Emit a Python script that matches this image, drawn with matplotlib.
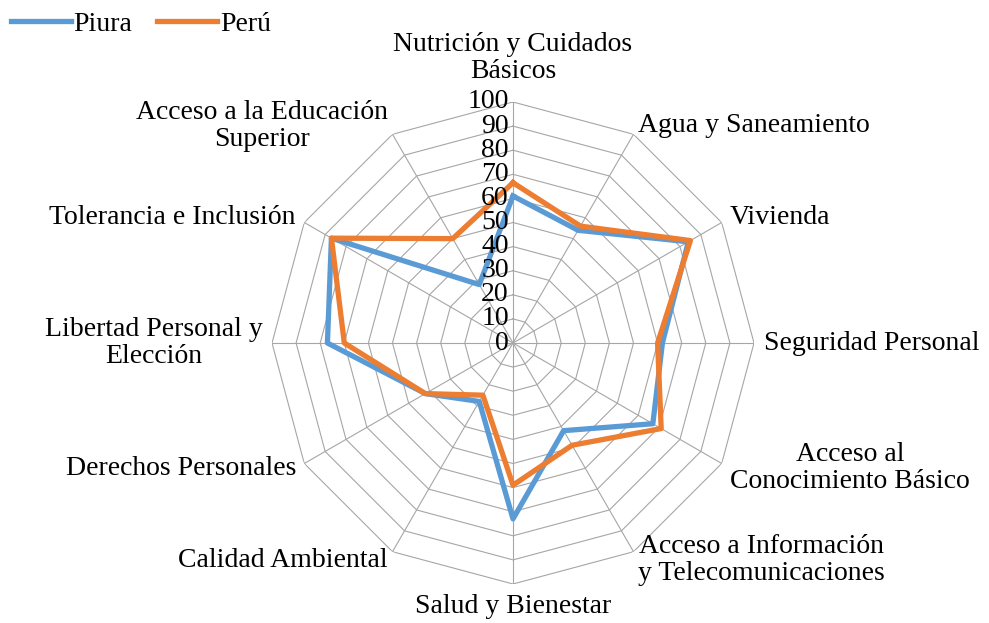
import numpy as np
import matplotlib
matplotlib.use('Agg')
import matplotlib.pyplot as plt

categories = [
    "Nutrición y Cuidados\nBásicos",
    "Agua y Saneamiento",
    "Vivienda",
    "Seguridad Personal",
    "Acceso al\nConocimiento Básico",
    "Acceso a Información\ny Telecomunicaciones",
    "Salud y Bienestar",
    "Calidad Ambiental",
    "Derechos Personales",
    "Libertad Personal y\nElección",
    "Tolerancia e Inclusión",
    "Acceso a la Educación\nSuperior",
]
piura = [61, 54, 84, 62, 67, 42, 73, 28, 42, 77, 87, 28]
peru = [66.5, 56, 85, 60, 71, 49, 59, 25, 42, 70, 87, 50]
r_ticks = list(range(0, 101, 10))

plt.rcParams['font.family'] = ['Liberation Serif', 'DejaVu Serif']
FS = 20
GRID = '#A6A6A6'

n = len(categories)
theta = np.linspace(0, 2 * np.pi, n, endpoint=False)
theta_c = np.append(theta, theta[0])

fig = plt.figure(figsize=(9.89, 6.23), dpi=100)
R = 241
cx, cy = 513, 343
ax = fig.add_axes([(cx - R) / 989, (623 - cy - R) / 623, 2 * R / 989, 2 * R / 623],
                  projection='polar')
ax.set_theta_offset(np.pi / 2)
ax.set_theta_direction(-1)
ax.set_ylim(0, 100)
ax.grid(False)
ax.spines['polar'].set_visible(False)
ax.set_xticks([])
ax.set_yticks([])
ax.patch.set_alpha(0)

# polygon grid (Excel style)
for r in r_ticks[1:]:
    ax.plot(theta_c, [r] * (n + 1), color=GRID, lw=0.8, zorder=1)
for t in theta:
    ax.plot([t, t], [0, 100], color=GRID, lw=0.8, zorder=1)

# radial labels
for r in r_ticks:
    ax.annotate(str(r), xy=(0, r), xytext=(-3, 0), textcoords='offset points',
                ha='right', va='center', fontsize=FS, zorder=5)

ax.plot(theta_c, piura + piura[:1], color='#5B9BD5', lw=3.8, label='Piura', zorder=3)
ax.plot(theta_c, peru + peru[:1], color='#ED7D31', lw=3.8, label='Perú', zorder=4)

# category labels
for t, lab in zip(theta, categories):
    deg = np.degrees(t) % 360
    r_lab = 104
    if deg < 1 or deg > 359:
        ha, va = 'center', 'bottom'
        r_lab = 107.5
    elif abs(deg - 180) < 1:
        ha, va = 'center', 'top'
    elif deg < 180:
        ha, va = 'left', 'center'
    else:
        ha, va = 'right', 'center'
    ax.text(t, r_lab, lab, ha=ha, va=va, multialignment='center', fontsize=FS,
            linespacing=1.12)

fig.legend(loc='upper left', bbox_to_anchor=(0.0, 1.0), ncol=2, frameon=False,
           fontsize=FS, handlelength=2.15, handletextpad=0.1, columnspacing=0.9,
           borderaxespad=0.0)

fig.savefig('out.png', dpi=100)
